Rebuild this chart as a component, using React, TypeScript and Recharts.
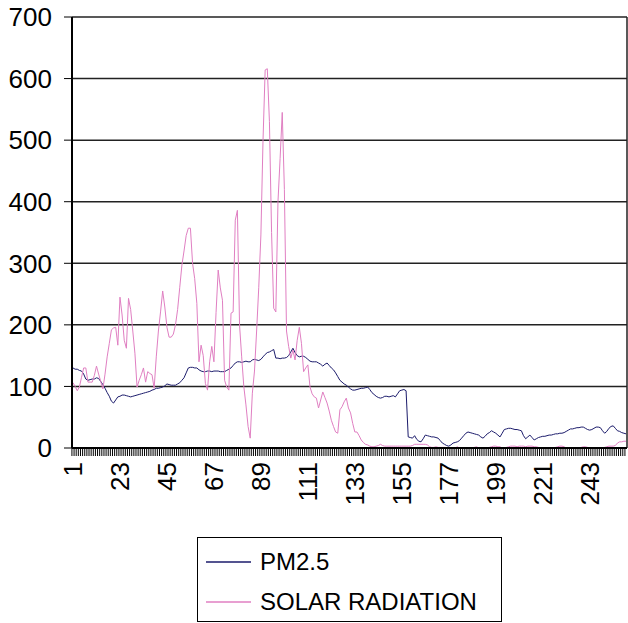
import { LineChart, Line, XAxis, YAxis, CartesianGrid, Legend } from 'recharts'

const pm25 = [
  130, 128, 128, 126, 125, 120, 112, 110, 111, 112, 112, 114, 113, 108, 103, 97, 90, 84, 76, 73,
  78, 83, 84, 86, 86, 85, 84, 83, 84, 85, 86, 87, 88, 89, 90, 91, 92, 94, 95, 97,
  97, 98, 99, 101, 104, 103, 102, 102, 102, 104, 106, 110, 114, 122, 130, 131, 131, 130, 130, 127,
  125, 124, 124, 125, 125, 124, 125, 125, 125, 124, 124, 124, 126, 128, 130, 134, 138, 140, 140, 139,
  140, 141, 140, 140, 143, 144, 143, 142, 144, 148, 152, 155, 156, 158, 160, 146, 146, 145, 146, 146,
  147, 150, 156, 162, 155, 150, 148, 149, 149, 147, 144, 141, 140, 140, 140, 138, 136, 133, 136, 138,
  134, 130, 127, 122, 116, 110, 107, 104, 102, 99, 96, 94, 94, 95, 96, 97, 97, 98, 99, 95,
  90, 87, 84, 82, 81, 82, 84, 84, 83, 84, 85, 83, 88, 93, 94, 95, 93, 18, 17, 16,
  20, 14, 11, 10, 15, 21, 20, 19, 18, 18, 17, 16, 12, 8, 6, 4, 3, 5, 8, 9,
  10, 12, 16, 20, 24, 26, 25, 24, 23, 22, 21, 18, 16, 19, 23, 25, 28, 26, 24, 21,
  18, 24, 30, 31, 32, 32, 31, 30, 30, 29, 28, 20, 15, 18, 21, 17, 13, 15, 17, 18,
  19, 19, 20, 21, 21, 22, 23, 23, 24, 24, 25, 27, 29, 31, 31, 32, 33, 33, 34, 34,
  32, 30, 29, 30, 32, 34, 34, 33, 28, 24, 27, 32, 35, 36, 32, 28, 27, 25, 24, 23,
]

const solar = [
  106, 100, 93, 99, 115, 130, 130, 107, 107, 107, 118, 133, 120, 108, 96, 120, 148, 170, 192, 195,
  196, 167, 245, 216, 175, 162, 243, 225, 190, 154, 99, 110, 119, 130, 107, 124, 121, 119, 97, 148,
  190, 221, 255, 229, 196, 180, 180, 185, 200, 225, 261, 297, 320, 345, 357, 357, 300, 275, 235, 140,
  167, 150, 105, 94, 140, 165, 140, 220, 289, 260, 240, 110, 99, 94, 219, 221, 370, 386, 200, 148,
  100, 70, 35, 16, 89, 125, 190, 261, 346, 500, 614, 616, 530, 350, 227, 221, 400, 470, 545, 420,
  190, 165, 146, 159, 143, 175, 196, 170, 124, 130, 135, 99, 88, 83, 81, 65, 78, 91, 82, 73,
  60, 45, 35, 26, 24, 62, 67, 75, 81, 65, 57, 40, 26, 26, 20, 13, 9, 6, 5, 3,
  2, 2, 3, 4, 6, 4, 3, 3, 3, 3, 3, 3, 3, 3, 3, 3, 3, 3, 3, 4,
  6, 6, 6, 6, 6, 6, 5, 2, 1, 1, 2, 1, 1, 1, 1, 0, 0, 0, 1, 0,
  2, 0, 0, 0, 0, 0, 0, 0, 1, 2, 0, 0, 0, 0, 0, 1, 2, 3, 3, 2,
  2, 0, 0, 1, 2, 3, 3, 3, 2, 3, 3, 3, 2, 3, 3, 3, 2, 2, 1, 0,
  0, 0, 0, 0, 0, 0, 1, 2, 3, 3, 2, 0, 0, 0, 0, 0, 0, 0, 1, 2,
  2, 1, 0, 0, 0, 0, 0, 0, 0, 1, 2, 3, 3, 3, 4, 8, 10, 10, 11, 11,
]

// category labels are just the running index 1..260
const days = pm25.map((_, i) => i + 1)
const tickLabels = [1, 23, 45, 67, 89, 111, 133, 155, 177, 199, 221, 243]
const yTicks = [0, 100, 200, 300, 400, 500, 600, 700]

const series = [
  { key: 'pm25', name: 'PM2.5', color: '#1b1b6b' },
  { key: 'solar', name: 'SOLAR RADIATION', color: '#e07fc2' },
]

const chartData = days.map((d, i) => ({ day: d, pm25: pm25[i], solar: solar[i] }))

const FONT = '"Liberation Sans", Arial, sans-serif'

// every category gets a small tick mark, only every 22nd gets a label
function DayTick(props: any) {
  const { x, y, payload } = props
  const show = tickLabels.includes(payload.value)
  return (
    <g>
      <line x1={x - 1.07} x2={x - 1.07} y1={y - 14} y2={y - 6} stroke="#000" strokeWidth={1} />
      {show && (
        <text
          x={x}
          y={y}
          dy="0.35em"
          textAnchor="end"
          transform={`rotate(-90, ${x}, ${y})`}
          fontSize={26}
          fontFamily={FONT}
          fill="#000"
        >
          {payload.value}
        </text>
      )}
    </g>
  )
}

function LegendBox() {
  return (
    <div
      style={{
        border: '1px solid #000',
        width: 305,
        height: 85,
        boxSizing: 'border-box',
        background: '#fff',
        fontFamily: FONT,
        fontSize: 24,
        paddingTop: 4,
      }}
    >
      {series.map((s) => (
        <div key={s.key} style={{ display: 'flex', alignItems: 'center', height: 40 }}>
          <svg width={62} height={4}>
            <line x1={8} x2={53} y1={2} y2={2} stroke={s.color} strokeWidth={1.5} />
          </svg>
          <span style={{ color: '#000', lineHeight: '40px' }}>{s.name}</span>
        </div>
      ))}
    </div>
  )
}

export default function App() {
  return (
    <div style={{ position: 'absolute', left: 0, top: 0, width: 628, height: 623, background: '#fff' }}>
      <LineChart
        width={628}
        height={623}
        data={chartData}
        margin={{ top: 17, right: 1, left: 0, bottom: 95 }}
      >
        <CartesianGrid stroke="#222" strokeWidth={1.5} verticalPoints={[627]} />
        <XAxis
          dataKey="day"
          interval={0}
          tick={<DayTick />}
          tickLine={false}
          tickSize={8}
          tickMargin={6}
          height={80}
          padding={{ left: 1, right: 1 }}
          axisLine={{ stroke: '#000', strokeWidth: 2 }}
        />
        <YAxis
          domain={[0, 700]}
          ticks={yTicks}
          width={72}
          tickSize={8}
          tickMargin={12}
          axisLine={{ stroke: '#000', strokeWidth: 2 }}
          tickLine={{ stroke: '#000' }}
          tick={{ fontSize: 26, fontFamily: FONT, fill: '#000' }}
        />
        <Legend
          layout="vertical"
          align="center"
          verticalAlign="middle"
          content={<LegendBox />}
          wrapperStyle={{ left: 197, top: 537, width: 305, height: 85 }}
        />
        {series.map((s) => (
          <Line
            key={s.key}
            type="linear"
            dataKey={s.key}
            name={s.name}
            stroke={s.color}
            strokeWidth={1}
            dot={false}
            isAnimationActive={false}
          />
        ))}
      </LineChart>
    </div>
  )
}
